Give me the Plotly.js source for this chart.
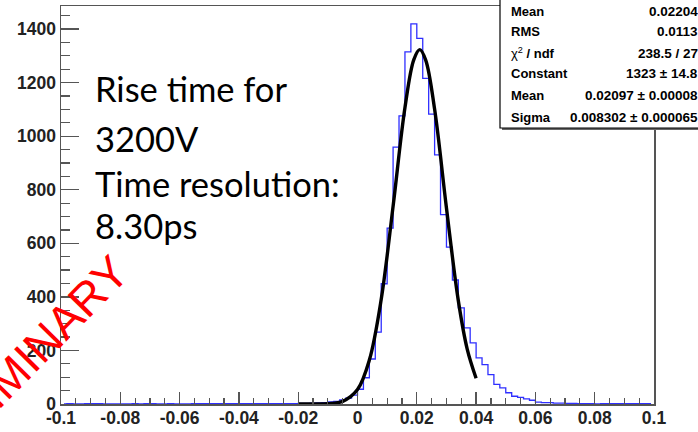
<!DOCTYPE html>
<html><head><meta charset="utf-8">
<script src="https://cdn.plot.ly/plotly-3.0.1.min.js"></script>
<style>html,body{margin:0;padding:0;background:#fff}#chart{width:698px;height:432px}</style>
</head><body><div id="chart"></div>
<script>
// ---- data ----
const binFirstCenter = -0.099;
const binWidth = 0.002;
const counts = [
  0,1,0,0,1,1,1,0,0,0,
  0,0,1,0,1,1,0,0,1,0,
  0,0,1,1,1,1,1,1,1,1,
  1,1,1,1,1,1,1,1,1,1,
  2,2,3,4,5,8,10,15,22,33,
  55,98,168,268,449,657,959,1076,1315,1419,
  1365,1216,1082,930,707,586,463,359,284,228,
  172,147,110,73,60,42,29,25,19,14,
  7,5,5,3,3,2,2,1,1,1,
  0,1,1,1,1,1,1,1,1,1
];
const fitX = [-0.02,-0.015,-0.01,-0.005,0,0.004,0.008,0.012,0.016,0.019,0.021,0.023,0.026,0.03,0.034,0.037,0.04];
const fitY = [0,0.1,1.3,10,54,164,391,738,1106,1286,1323,1284,1101,732,386,205,96];
const xTickVals = [-0.1,-0.08,-0.06,-0.04,-0.02,0,0.02,0.04,0.06,0.08,0.1];
const xTickText = ['-0.1','-0.08','-0.06','-0.04','-0.02','0','0.02','0.04','0.06','0.08','0.1'];
const yTickVals = [0,200,400,600,800,1000,1200,1400];
const yTickText = ['0','200','400','600','800','1000','1200','1400'];
const statLabels = ['<b>Mean</b>','<b>RMS</b>','χ<sup>2</sup><b> / ndf</b>','<b>Constant</b>','<b>Mean</b>','<b>Sigma</b>'];
const statValues = ['0.02204','0.0113','238.5 / 27','1323 ± 14.8','0.02097 ± 0.00008','0.008302 ± 0.000065'];
const noteLines = ['Rise time for','3200V','Time resolution:','8.30ps'];
const watermark = 'PRELIMINARY';

// ---- layout helpers (pixel -> paper) ----
const L = 61, R = 654, T = 6, B = 404;
const px = x => (x - L) / (R - L);
const py = y => (B - y) / (B - T);

const traces = [
  {type:'scatter', mode:'lines', x0: binFirstCenter, dx: binWidth, y: counts,
   line:{shape:'hvh', color:'#2f2fff', width:1.3}, hoverinfo:'skip'},
  {type:'scatter', mode:'lines', x: fitX, y: fitY,
   line:{shape:'spline', color:'#000', width:3.4}, hoverinfo:'skip'}
];

const annotations = [];
const statRowsY = [12, 32, 53, 74, 96, 117];
statLabels.forEach((t,i)=>{
  annotations.push({xref:'paper', yref:'paper', x:px(509), y:py(statRowsY[i]), xanchor:'left', yanchor:'middle',
    text:t, showarrow:false, font:{family:'Liberation Sans, Arial', size:13, color:'#000'}});
  annotations.push({xref:'paper', yref:'paper', x:px(700), y:py(statRowsY[i]), xanchor:'right', yanchor:'middle',
    text:'<b>'+statValues[i]+'</b>', showarrow:false, font:{family:'Liberation Sans, Arial', size:13.5, color:'#000'}});
});
const noteY = [88, 139, 183, 226];
noteLines.forEach((t,i)=>{
  annotations.push({xref:'paper', yref:'paper', x:px(93), y:py(noteY[i]), xanchor:'left', yanchor:'middle',
    text:t, showarrow:false, font:{family:'Lato, Open Sans, sans-serif', size:34.5, color:'#000'}});
});
annotations.push({xref:'paper', yref:'paper', x:px(11), y:py(375), xanchor:'center', yanchor:'middle',
  text:watermark, textangle:-45.5, showarrow:false,
  font:{family:'Liberation Sans, Arial', size:46, color:'#ff0000'}});

const tf = {family:'Liberation Sans, Arial', size:17.5, weight:'bold', color:'#222'};
const layout = {
  width:698, height:432,
  margin:{l:L, r:698-R, t:T, b:432-B, pad:0},
  paper_bgcolor:'#fff', plot_bgcolor:'#fff',
  showlegend:false,
  xaxis:{range:[-0.1,0.1], tickmode:'array', tickvals:xTickVals, ticktext:xTickText,
    ticks:'inside', ticklen:12, tickwidth:1.3, tickcolor:'#555',
    minor:{tickmode:'linear', tick0:-0.1, dtick:0.005, ticks:'inside', ticklen:6, tickwidth:1.2, tickcolor:'#555', showgrid:false},
    showline:true, linecolor:'#555', linewidth:1.5, mirror:true, showgrid:false, zeroline:false,
    tickfont:tf, ticklabelstandoff:-3},
  yaxis:{range:[0,1486], tickmode:'array', tickvals:yTickVals, ticktext:yTickText,
    ticks:'inside', ticklen:18, tickwidth:1.3, tickcolor:'#555',
    minor:{tickmode:'linear', tick0:0, dtick:50, ticks:'inside', ticklen:9, tickwidth:1.2, tickcolor:'#555', showgrid:false},
    showline:true, linecolor:'#555', linewidth:1.5, mirror:true, showgrid:false, zeroline:false,
    tickfont:tf},
  shapes:[
    {type:'rect', xref:'paper', yref:'paper', x0:px(502), x1:px(720), y0:py(130), y1:py(-10),
     line:{width:0}, fillcolor:'#666', layer:'above'},
    {type:'rect', xref:'paper', yref:'paper', x0:px(500), x1:px(720), y0:py(128), y1:py(-10),
     line:{color:'#000', width:1.2}, fillcolor:'#fff', layer:'above'}
  ],
  annotations: annotations
};

Plotly.newPlot('chart', traces, layout, {staticPlot:true, displayModeBar:false});
</script></body></html>
